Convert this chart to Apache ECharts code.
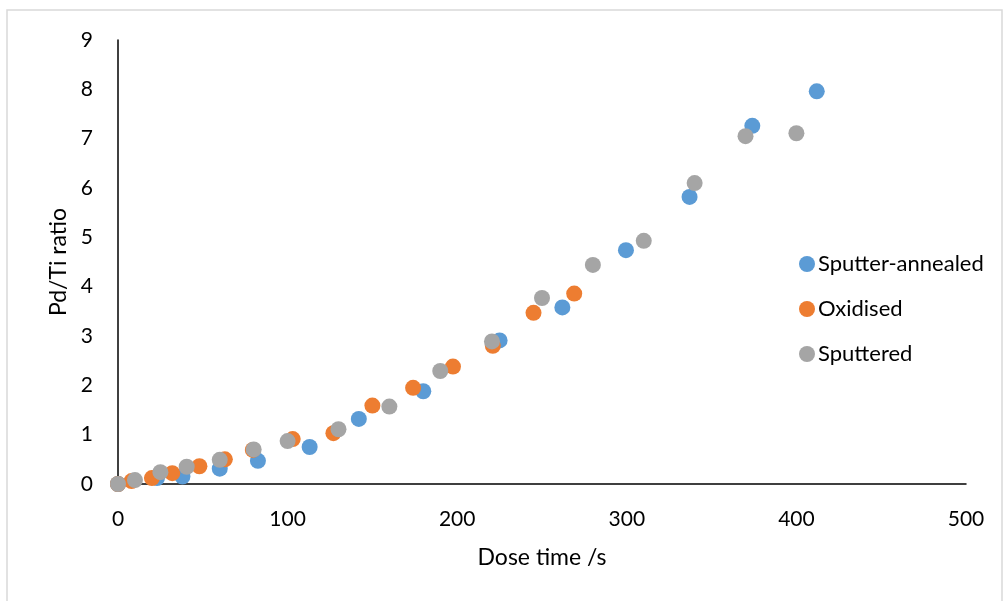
<!DOCTYPE html>
<html>
<head>
<meta charset="utf-8">
<script src="https://cdn.jsdelivr.net/npm/echarts@6/dist/echarts.min.js"></script>
<style>
  html, body { margin: 0; padding: 0; background: #ffffff; }
  #chart { width: 1003px; height: 601px; }
</style>
</head>
<body>
<div id="chart"></div>
<script>
// Dose time (s) and Pd/Ti ratio for each surface preparation
const sputterAnnealedTime  = [0, 23, 38, 60, 82.5, 113, 142, 180, 225, 262, 299.5, 337, 374, 412];
const sputterAnnealedRatio = [0, 0.12, 0.15, 0.31, 0.47, 0.75, 1.32, 1.88, 2.91, 3.58, 4.74, 5.82, 7.26, 7.96];

const oxidisedTime  = [0, 8, 20, 32, 48, 63, 79.5, 103, 127, 150, 174, 197.5, 221, 245, 269];
const oxidisedRatio = [0, 0.06, 0.12, 0.22, 0.36, 0.5, 0.69, 0.91, 1.03, 1.59, 1.95, 2.38, 2.8, 3.47, 3.86];

const sputteredTime  = [0, 10, 25, 40.5, 60, 80, 100, 130, 160, 190, 220.5, 250, 280, 310, 340, 370, 400];
const sputteredRatio = [0, 0.08, 0.24, 0.35, 0.49, 0.7, 0.87, 1.11, 1.57, 2.29, 2.89, 3.77, 4.44, 4.93, 6.1, 7.05, 7.11];

const seriesNames = ['Sputter-annealed', 'Oxidised', 'Sputtered'];
const seriesColors = ['#5B9BD5', '#ED7D31', '#A5A5A5'];

const pairs = (xs, ys) => xs.map((x, i) => [x, ys[i]]);
const seriesData = [
  pairs(sputterAnnealedTime, sputterAnnealedRatio),
  pairs(oxidisedTime, oxidisedRatio),
  pairs(sputteredTime, sputteredRatio)
];

const FONT = 'Lato, "Open Sans", sans-serif';
const chart = echarts.init(document.getElementById('chart'), null, { renderer: 'canvas' });

chart.setOption({
  animation: false,
  backgroundColor: '#ffffff',
  graphic: [{
    type: 'rect',
    shape: { x: 7, y: 10, width: 995, height: 700 },
    style: { fill: 'none', stroke: '#d9d9d9', lineWidth: 1.5 },
    silent: true
  }],
  grid: { left: 118, right: 37, top: 40, bottom: 117, containLabel: false },
  legend: {
    orient: 'vertical',
    left: 799,
    top: 253,
    padding: 0,
    icon: 'circle',
    itemWidth: 16,
    itemHeight: 16,
    itemGap: 23,
    textStyle: { fontFamily: FONT, fontSize: 22, color: '#000000', padding: [0, 0, 0, -2] },
    data: seriesNames
  },
  xAxis: {
    type: 'value',
    min: 0, max: 500, interval: 100,
    name: 'Dose time /s',
    nameLocation: 'middle',
    nameGap: 62,
    nameTextStyle: { fontFamily: FONT, fontSize: 23, color: '#000000' },
    axisLine: { show: true, onZero: false, lineStyle: { color: '#000000', width: 1.5 } },
    axisTick: { show: false },
    axisLabel: { fontFamily: FONT, fontSize: 21, color: '#000000', margin: 25 },
    splitLine: { show: false }
  },
  yAxis: {
    type: 'value',
    min: 0, max: 9, interval: 1,
    name: 'Pd/Ti ratio',
    nameLocation: 'middle',
    nameGap: 46,
    nameRotate: 90,
    nameTextStyle: { fontFamily: FONT, fontSize: 23, color: '#000000' },
    axisLine: { show: true, onZero: false, lineStyle: { color: '#000000', width: 1.5 } },
    axisTick: { show: false },
    axisLabel: { fontFamily: FONT, fontSize: 21, color: '#000000', margin: 25 },
    splitLine: { show: false }
  },
  series: seriesNames.map((name, i) => ({
    name,
    type: 'scatter',
    data: seriesData[i],
    symbol: 'circle',
    symbolSize: 16,
    itemStyle: { color: seriesColors[i], opacity: 1 },
    z: 2 + i
  }))
});
</script>
</body>
</html>
